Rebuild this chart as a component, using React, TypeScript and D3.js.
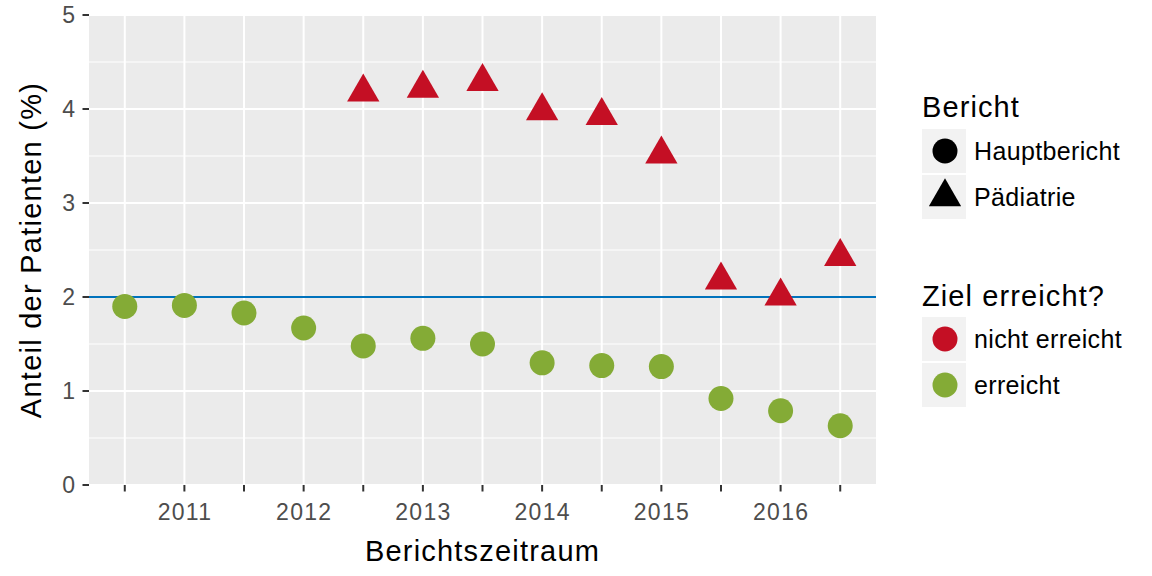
import React from "react";
import * as d3 from "d3";

const periods = ["2010-2", "2011", "2011-2", "2012", "2012-2", "2013", "2013-2", "2014", "2014-2", "2015", "2015-2", "2016", "2016-2"];
const tickLabels = ["", "2011", "", "2012", "", "2013", "", "2014", "", "2015", "", "2016", ""];
const hauptbericht = [1.9, 1.91, 1.83, 1.67, 1.48, 1.56, 1.5, 1.3, 1.27, 1.26, 0.92, 0.79, 0.63];
const paediatrie: (number | null)[] = [null, null, null, null, 4.18, 4.22, 4.29, 3.98, 3.93, 3.52, 2.18, 2.01, 2.43];
const yTicks = [0, 1, 2, 3, 4, 5];
const yMinor = [0.5, 1.5, 2.5, 3.5, 4.5];
const target = 2;
const berichtLabels = ["Hauptbericht", "Pädiatrie"];
const zielLabels = ["nicht erreicht", "erreicht"];

const RED = "#c40f24";
const GREEN = "#84ab36";
const BLUE = "#0072bc";
const FONT = "'Liberation Sans', Arial, sans-serif";

export default function App() {
  const W = 1152, H = 576;
  const left = 89, right = 876, top = 15, bottom = 485;
  const x = d3.scalePoint<string>().domain(periods).range([left, right]).padding(0.6);
  const y = d3.scaleLinear().domain([0, 5]).range([bottom, top]);
  const circle = d3.symbol().type(d3.symbolCircle).size(Math.PI * 12.5 * 12.5)()!;
  const tri = d3.symbol().type(d3.symbolTriangle).size(452)()!;
  const keyCircle = circle;

  type Pt = { p: string; v: number; shape: string };
  const pts: Pt[] = [];
  periods.forEach((p, i) => {
    pts.push({ p, v: hauptbericht[i], shape: "c" });
    const pv = paediatrie[i];
    if (pv != null) pts.push({ p, v: pv, shape: "t" });
  });
  const colorOf = (v: number) => (v > target ? RED : GREEN);

  const lx = 922;
  return (
    <svg width={W} height={H} style={{ position: "absolute", left: 0, top: 0, background: "#fff" }} fontFamily={FONT}>
      <rect x={left} y={top} width={right - left} height={bottom - top} fill="#ebebeb" />
      {yMinor.map((t) => (
        <line key={"m" + t} x1={left} x2={right} y1={y(t)} y2={y(t)} stroke="#fff" strokeWidth={1} />
      ))}
      {yTicks.map((t) => (
        <line key={"g" + t} x1={left} x2={right} y1={y(t)} y2={y(t)} stroke="#fff" strokeWidth={2} />
      ))}
      {periods.map((p) => (
        <line key={"v" + p} x1={x(p)} x2={x(p)} y1={top} y2={bottom} stroke="#fff" strokeWidth={2} />
      ))}
      <line x1={left} x2={right} y1={y(target)} y2={y(target)} stroke={BLUE} strokeWidth={2} />
      {pts.map((d, i) => (
        <path key={i} d={d.shape === "c" ? circle : tri} transform={`translate(${x(d.p)},${y(d.v)})`} fill={colorOf(d.v)} />
      ))}
      {yTicks.map((t) => (
        <g key={"yt" + t}>
          <line x1={left - 6.5} x2={left} y1={y(t)} y2={y(t)} stroke="#333" strokeWidth={2} />
          <text x={left - 14} y={y(t)} dy="0.35em" textAnchor="end" fontSize={23} fill="#4d4d4d">{t}</text>
        </g>
      ))}
      {periods.map((p, i) => (
        <g key={"xt" + p}>
          <line x1={x(p)} x2={x(p)} y1={bottom} y2={bottom + 6.5} stroke="#333" strokeWidth={2} />
          <text x={(x(p) as number) + 0.6} y={bottom + 27} dy="0.35em" textAnchor="middle" fontSize={23} letterSpacing={1.3} fill="#4d4d4d">{tickLabels[i]}</text>
        </g>
      ))}
      <text x={(left + right) / 2} y={560.5} textAnchor="middle" fontSize={29} letterSpacing={1.2} fill="#000">Berichtszeitraum</text>
      <text transform={`translate(41,${(top + bottom) / 2}) rotate(-90)`} textAnchor="middle" fontSize={29} letterSpacing={1.25} fill="#000">Anteil der Patienten (%)</text>

      <text x={lx} y={116.5} fontSize={29} letterSpacing={1.1} fill="#000">Bericht</text>
      {berichtLabels.map((l, i) => {
        const cy = 151 + i * 46;
        return (
          <g key={l}>
            <rect x={lx} y={cy - 22} width={44} height={44} fill="#f2f2f2" />
            <path d={i === 0 ? keyCircle : tri} transform={`translate(${lx + 23},${cy})`} fill="#000" />
            <text x={974} y={cy} dy="0.35em" fontSize={25} letterSpacing={0.35} fill="#000">{l}</text>
          </g>
        );
      })}
      <text x={lx} y={306} fontSize={29} letterSpacing={1.1} fill="#000">Ziel erreicht?</text>
      {zielLabels.map((l, i) => {
        const cy = 339 + i * 46;
        return (
          <g key={l}>
            <rect x={lx} y={cy - 22} width={44} height={44} fill="#f2f2f2" />
            <path d={keyCircle} transform={`translate(${lx + 23},${cy})`} fill={i === 0 ? RED : GREEN} />
            <text x={974} y={cy} dy="0.35em" fontSize={25} letterSpacing={0.35} fill="#000">{l}</text>
          </g>
        );
      })}
    </svg>
  );
}
